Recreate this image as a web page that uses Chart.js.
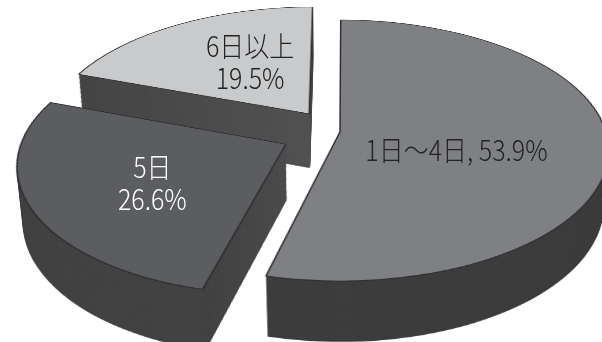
<!DOCTYPE html>
<html>
<head>
<meta charset="utf-8">
<script src="https://cdn.jsdelivr.net/npm/chart.js@4.4.1/dist/chart.umd.min.js"></script>
<style>
  html, body { margin: 0; padding: 0; background: #fff; }
  canvas { display: block; }
</style>
</head>
<body>
<canvas id="pie" width="602" height="342"></canvas>
<script>
// 日数別の割合
const labels = ['1日～4日', '5日', '6日以上'];
const shares = [53.9, 26.6, 19.5];

const topColors  = ['#7f8084', '#5c5d61', '#c9cacc'];
const sideInner  = ['#58585a', '#4d4d4e', '#525253'];
const sideOuter  = ['#3d3d3e', '#434344', '#454546'];
const textColors = ['#222222', '#ffffff', '#222222'];
const explode    = [20, 220, 184];          // arc offset (Chart.js shifts by offset/4)
const labelPlace = [[0.46, 11], [0.555, -3], [0.52, 6]]; // radius fraction, angle nudge (deg)
const stacked    = [false, true, true];

const R = 261, THICK = 64, OFF = 900;
const cam = { x0: 340, y0: 132, F: 1631, D: 1631, sin: 0.481, cos: 0.877 };
const centre = { X: -5.0, Z: -1.0 };        // pie centre relative to camera axis

function project(X, Z, h) {
  const s = cam.F / (cam.D - h * cam.sin - Z * cam.cos);
  return { x: cam.x0 + X * s, y: cam.y0 - (h * cam.cos - Z * cam.sin) * s };
}

// copy the flat slice row by row onto the tilted plane at height h
function warp(ctx, src, h, zMin, zMax, height) {
  for (let y = 0; y < height; y++) {
    const yp = (cam.y0 - (y + 0.5)) / cam.F;
    const Z = (h * cam.cos - yp * (cam.D - h * cam.sin)) / (cam.sin - yp * cam.cos);
    if (Z < zMin || Z > zMax) continue;
    const s = cam.F / (cam.D - h * cam.sin - Z * cam.cos);
    ctx.drawImage(src, 0, Z + OFF / 2 - 0.5, OFF, 1, cam.x0 - OFF / 2 * s, y, OFF * s, 1);
  }
}

const pie3d = {
  id: 'pie3d',
  beforeDatasetsDraw(chart) {
    const ctx = chart.ctx;
    const arcs = chart.getDatasetMeta(0).data;
    const cx = arcs[0].x, cy = arcs[0].y;
    const off = document.createElement('canvas');
    off.width = OFF; off.height = OFF;
    const octx = off.getContext('2d');
    const tx = OFF / 2 + centre.X - cx, ty = OFF / 2 + centre.Z - cy;

    const info = arcs.map((a, i) => {
      const mid = (a.startAngle + a.endAngle) / 2;
      const sh = a.options.offset / 4;
      const X = a.x - cx + centre.X + Math.cos(mid) * sh;
      const Z = a.y - cy + centre.Z + Math.sin(mid) * sh;
      return { i, mid, X, Z, reach: a.outerRadius + sh + 4 };
    });

    const paint = (arc, opts) => {
      octx.setTransform(1, 0, 0, 1, 0, 0);
      octx.clearRect(0, 0, OFF, OFF);
      octx.setTransform(1, 0, 0, 1, tx, ty);
      const el = Object.create(arc);
      el.options = Object.assign({}, arc.options, opts);
      el.draw(octx);
    };

    // back to front
    info.slice().sort((p, q) => p.Z - q.Z).forEach(p => {
      const arc = arcs[p.i];
      const zMin = p.Z - p.reach, zMax = p.Z + p.reach;
      const g = octx.createRadialGradient(arc.x, arc.y, 0, arc.x, arc.y, arc.outerRadius);
      g.addColorStop(0, sideInner[p.i]);
      g.addColorStop(1, sideOuter[p.i]);
      paint(arc, { backgroundColor: g, borderWidth: 0 });
      for (let h = -THICK; h < 0; h += 1) warp(ctx, off, h, zMin, zMax, chart.height);
      paint(arc, { backgroundColor: topColors[p.i], borderWidth: 1.5, borderColor: '#2e2e2e' });
      warp(ctx, off, 0, zMin, zMax, chart.height);
    });

    // labels
    ctx.save();
    ctx.font = '300 25px "Noto Sans CJK JP", sans-serif';
    ctx.textAlign = 'center';
    ctx.textBaseline = 'middle';
    info.forEach(p => {
      const arc = arcs[p.i];
      const [f, nudge] = labelPlace[p.i];
      const a = p.mid + nudge * Math.PI / 180;
      const r = arc.outerRadius * f;
      const pt = project(p.X + Math.cos(a) * r, p.Z + Math.sin(a) * r, 0);
      const lines = stacked[p.i]
        ? [labels[p.i], shares[p.i].toFixed(1) + '%']
        : [labels[p.i] + ', ' + shares[p.i].toFixed(1) + '%'];
      ctx.fillStyle = textColors[p.i];
      lines.forEach((t, k) => {
        ctx.save();
        ctx.translate(pt.x, pt.y + (k - (lines.length - 1) / 2) * 32);
        ctx.scale(1, 1.15);
        ctx.fillText(t, 0, 0);
        ctx.restore();
      });
    });
    ctx.restore();
    return false;
  }
};

new Chart(document.getElementById('pie'), {
  type: 'pie',
  data: {
    labels: labels,
    datasets: [{
      data: shares,
      backgroundColor: topColors,
      borderWidth: 0,
      offset: explode,
      hoverOffset: 0,
      radius: R
    }]
  },
  options: {
    responsive: false,
    animation: false,
    devicePixelRatio: 1,
    events: [],
    layout: { padding: 0 },
    plugins: {
      legend: { display: false },
      tooltip: { enabled: false }
    }
  },
  plugins: [pie3d]
});
</script>
</body>
</html>
